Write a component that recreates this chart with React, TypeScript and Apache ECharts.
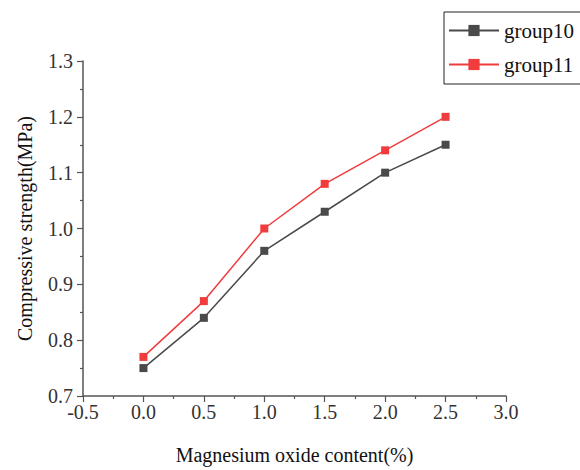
import React, { useEffect, useRef } from "react";
import * as echarts from "echarts";

const xValues = [0.0, 0.5, 1.0, 1.5, 2.0, 2.5];
const group10 = [0.75, 0.84, 0.96, 1.03, 1.10, 1.15];
const group11 = [0.77, 0.87, 1.00, 1.08, 1.14, 1.20];
const seriesNames = ["group10", "group11"];
const xTitle = "Magnesium oxide content(%)";
const yTitle = "Compressive strength(MPa)";

const FONT = "Liberation Serif, DejaVu Serif, Times New Roman, serif";

export default function App() {
  const ref = useRef<HTMLDivElement>(null);
  useEffect(() => {
    if (!ref.current) return;
    const chart = echarts.init(ref.current, undefined, { renderer: "svg" });
    const axisLineColor = "#555555";
    chart.setOption({
      animation: false,
      backgroundColor: "#ffffff",
      textStyle: { fontFamily: FONT, fontSize: 20 },
      grid: { left: 83, right: 74, top: 61, bottom: 69, containLabel: false },
      legend: {
        show: true,
        orient: "vertical",
        left: 444,
        top: 12,
        data: seriesNames,
        itemWidth: 50,
        itemHeight: 14,
        itemGap: 13,
        padding: [8, 40, 9, 4],
        borderColor: "#222222",
        borderWidth: 1,
        textStyle: { fontFamily: FONT, fontSize: 21, color: "#111111", lineHeight: 14 },
      },
      xAxis: {
        type: "value",
        min: -0.5,
        max: 3.0,
        interval: 0.5,
        name: xTitle,
        nameLocation: "middle",
        nameGap: 49,
        nameTextStyle: { fontFamily: FONT, fontSize: 20, color: "#111111" },
        axisLine: { show: true, onZero: false, lineStyle: { color: axisLineColor, width: 1.5 } },
        axisTick: { show: true, inside: false, length: 6, lineStyle: { color: axisLineColor, width: 1.2 } },
        minorTick: { show: true, splitNumber: 2, length: 3, lineStyle: { color: axisLineColor, width: 1.2 } },
        splitLine: { show: false },
        axisLabel: {
          fontFamily: FONT,
          fontSize: 20,
          color: "#333333",
          margin: 6,
          formatter: (v: number) => v.toFixed(1),
        },
      },
      yAxis: {
        type: "value",
        min: 0.7,
        max: 1.3,
        interval: 0.1,
        name: yTitle,
        nameLocation: "middle",
        nameGap: 48,
        nameTextStyle: { fontFamily: FONT, fontSize: 20, color: "#111111" },
        axisLine: { show: true, onZero: false, lineStyle: { color: axisLineColor, width: 1.5 } },
        axisTick: { show: true, inside: false, length: 6, lineStyle: { color: axisLineColor, width: 1.2 } },
        minorTick: { show: true, splitNumber: 2, length: 3, lineStyle: { color: axisLineColor, width: 1.2 } },
        splitLine: { show: false },
        axisLabel: {
          fontFamily: FONT,
          fontSize: 20,
          color: "#333333",
          margin: 10,
          formatter: (v: number) => v.toFixed(1),
        },
      },
      series: [
        {
          name: seriesNames[0],
          type: "line",
          data: xValues.map((x, i) => [x, group10[i]]),
          symbol: "rect",
          symbolSize: 8,
          lineStyle: { color: "#4a4a4a", width: 1.5 },
          itemStyle: { color: "#4a4a4a" },
        },
        {
          name: seriesNames[1],
          type: "line",
          data: xValues.map((x, i) => [x, group11[i]]),
          symbol: "rect",
          symbolSize: 8,
          lineStyle: { color: "#f03c3c", width: 1.5 },
          itemStyle: { color: "#f03c3c" },
        },
      ],
    });
    return () => chart.dispose();
  }, []);
  return <div ref={ref} style={{ width: 580, height: 470, position: "absolute", left: 0, top: 0 }} />;
}
